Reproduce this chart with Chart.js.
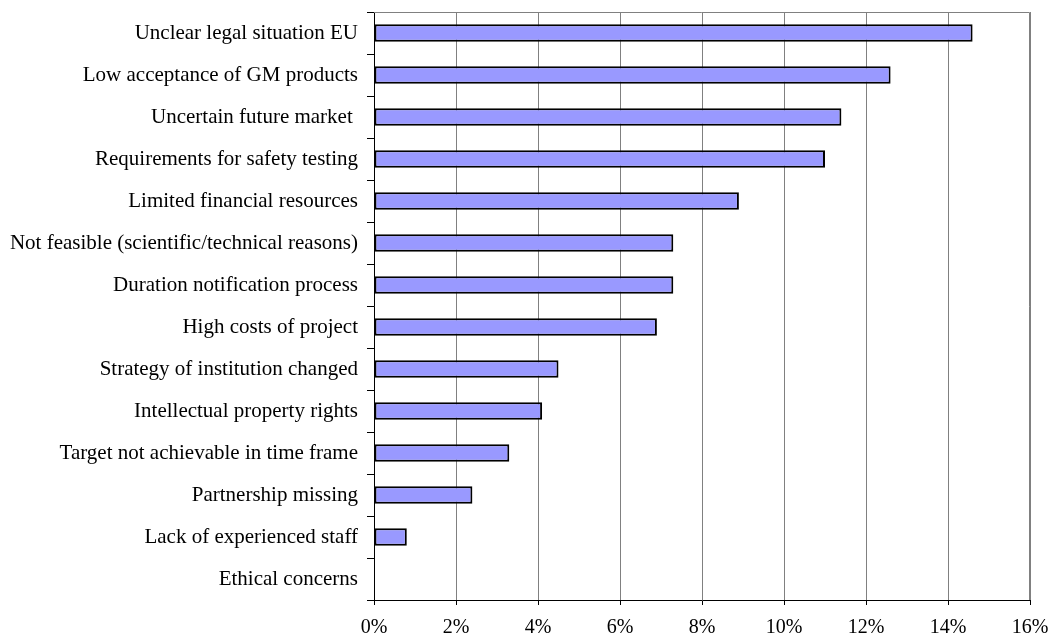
<!DOCTYPE html>
<html lang="en">
<head>
    <meta charset="UTF-8">
    <title>Reasons for stopping GM projects</title>
    <script src="https://cdn.jsdelivr.net/npm/chart.js"></script>
    <style>
        body {
            margin: 0;
            background: #fff;
        }

        #wrap {
            width: 1050px;
            height: 641px;
        }
    </style>
</head>
<body>
    <div id="wrap"><canvas id="reasonsChart"></canvas></div>

    <script>
        // Reasons and share of answers (%)
        const reasons = [
            'Unclear legal situation EU',
            'Low acceptance of GM products',
            'Uncertain future market ',
            'Requirements for safety testing',
            'Limited financial resources',
            'Not feasible (scientific/technical reasons)',
            'Duration notification process',
            'High costs of project',
            'Strategy of institution changed',
            'Intellectual property rights',
            'Target not achievable in time frame',
            'Partnership missing',
            'Lack of experienced staff',
            'Ethical concerns'
        ];
        const shares = [14.6, 12.6, 11.4, 11.0, 8.9, 7.3, 7.3, 6.9, 4.5, 4.1, 3.3, 2.4, 0.8, 0];
        const xTicks = [0, 2, 4, 6, 8, 10, 12, 14, 16];

        const fontFamily = '"Liberation Serif", "Times New Roman", serif';

        // gray frame on top and right of the plot area
        const frame = {
            id: 'frame',
            beforeDatasetsDraw(chart) {
                const { ctx, chartArea: a } = chart;
                ctx.save();
                ctx.strokeStyle = '#808080';
                ctx.lineWidth = 1;
                ctx.beginPath();
                ctx.moveTo(a.left, a.top + 0.5);
                ctx.lineTo(a.right - 0.5, a.top + 0.5);
                ctx.lineTo(a.right - 0.5, a.bottom);
                ctx.stroke();
                ctx.restore();
            }
        };

        const ctx = document.getElementById('reasonsChart').getContext('2d');
        new Chart(ctx, {
            type: 'bar',
            data: {
                labels: reasons,
                datasets: [{
                    data: shares,
                    backgroundColor: '#9999ff',
                    borderColor: '#000',
                    borderWidth: 2,
                    borderSkipped: false,
                    categoryPercentage: 1,
                    barPercentage: 0.42
                }]
            },
            plugins: [frame],
            options: {
                indexAxis: 'y',
                responsive: true,
                maintainAspectRatio: false,
                animation: false,
                layout: { padding: { top: 12, right: 20, left: 0, bottom: 0 } },
                plugins: {
                    legend: { display: false },
                    tooltip: { enabled: false }
                },
                scales: {
                    x: {
                        min: 0,
                        max: 16,
                        afterBuildTicks(scale) {
                            scale.ticks = xTicks.map(v => ({ value: v }));
                        },
                        afterFit(scale) {
                            scale.height = 41;
                            scale.paddingLeft = 0;
                            scale.paddingRight = 0;
                        },
                        ticks: {
                            color: '#000',
                            font: { family: fontFamily, size: 20 },
                            padding: 11,
                            maxRotation: 0,
                            callback: v => v + '%'
                        },
                        grid: {
                            color: '#808080',
                            lineWidth: 1,
                            tickColor: '#000',
                            tickLength: 5
                        },
                        border: { color: '#000', width: 1 }
                    },
                    y: {
                        afterFit(scale) {
                            scale.width = 374;
                            scale.paddingTop = 0;
                            scale.paddingBottom = 0;
                        },
                        ticks: {
                            color: '#000',
                            font: { family: fontFamily, size: 21 },
                            padding: 9,
                            autoSkip: false
                        },
                        grid: {
                            offset: true,
                            drawOnChartArea: false,
                            tickColor: '#000',
                            tickLength: 7
                        },
                        border: { color: '#000', width: 1 }
                    }
                }
            }
        });
    </script>
</body>
</html>
